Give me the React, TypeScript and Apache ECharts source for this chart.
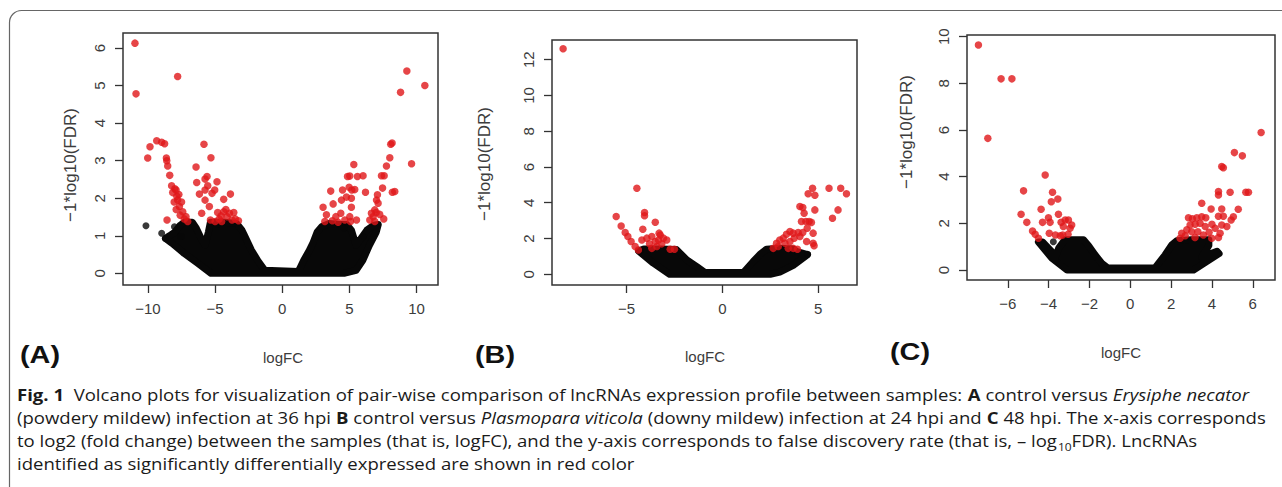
import React, { useEffect, useRef } from "react";
import * as echarts from "echarts";

// ---------- Panel A ----------
const xTicksA = [-10, -5, 0, 5, 10];
const yTicksA = [0, 1, 2, 3, 4, 5, 6];
const redA: number[][] = [
  [-10.97, 6.13], [-10.89, 4.78], [-7.79, 5.24], [-10.02, 3.07], [-9.85, 3.37], [-9.35, 3.53], [-8.98, 3.49],
  [-8.76, 3.45], [-8.63, 3.07], [-8.6, 3.0], [-8.53, 2.86], [-8.38, 2.61], [-8.24, 2.33], [-8.16, 2.15],
  [-8.0, 2.25], [-7.91, 2.22], [-7.85, 2.05], [-7.79, 1.95], [-8.05, 1.9], [-7.66, 1.78], [-7.9, 1.7],
  [-7.41, 1.64], [-7.6, 1.55], [-7.17, 1.51], [-7.3, 1.45], [-7.04, 1.38], [-8.58, 1.42], [-7.5, 1.9], [-7.7, 2.1],
  [-5.83, 3.44], [-5.31, 3.08], [-6.42, 2.83], [-5.6, 2.58], [-5.75, 2.51], [-6.37, 2.42], [-4.86, 2.44],
  [-6.17, 2.11], [-5.75, 2.22], [-5.55, 2.33], [-5.23, 2.13], [-5.03, 2.22], [-5.75, 1.95], [-4.36, 1.97],
  [-3.86, 2.11], [-6.0, 1.6], [-5.43, 1.78], [-4.81, 1.62], [-5.35, 1.42], [-5.0, 1.38], [-4.56, 1.53],
  [-4.36, 1.64], [-4.11, 1.51], [-3.93, 1.6], [-3.61, 1.62], [-3.74, 1.42], [-3.26, 1.4], [-4.51, 1.38],
  [-4.2, 1.7], [-4.7, 1.45], [-3.5, 1.45],
  [9.28, 5.39], [10.62, 5.0], [8.81, 4.82], [9.63, 2.92], [8.18, 3.47], [8.08, 3.44], [8.01, 3.08], [7.76, 2.86],
  [7.59, 2.6], [7.39, 2.6], [7.47, 2.27], [8.38, 2.18], [8.2, 2.16], [7.09, 2.09], [7.02, 1.95], [7.14, 1.87],
  [6.89, 1.69], [7.0, 1.62], [7.26, 1.57], [6.77, 1.51], [6.52, 1.42], [6.89, 1.38], [7.56, 1.45], [6.64, 1.6],
  [5.33, 2.9], [5.03, 2.59], [4.86, 2.58], [5.6, 2.58], [6.02, 2.6], [3.61, 2.19], [4.49, 2.22], [4.98, 2.29],
  [5.18, 2.22], [5.4, 2.23], [6.2, 2.16], [4.41, 1.95], [4.78, 2.03], [5.15, 2.0], [3.79, 1.85], [3.04, 1.76],
  [5.15, 1.76], [4.36, 1.6], [3.29, 1.56], [3.99, 1.51], [5.03, 1.51], [3.17, 1.38], [3.73, 1.4], [4.16, 1.36],
  [4.66, 1.42], [5.08, 1.38], [5.53, 1.42],
];
const blackA: number[][] = [
  [-10.15, 1.27], [-8.03, 1.24], [-8.98, 1.07], [-7.54, 0.98], [-8.7, 0.93], [-4.8, 1.3], [6.05, 0.98], [4.6, 1.2],
];
const massA: number[][] = [
  [-5.3, 0], [-6.3, 0.27], [-7.3, 0.53], [-8.2, 0.8], [-8.7, 0.93], [-8.4, 1.0], [-8.0, 1.1], [-7.6, 1.28],
  [-7.3, 1.36], [-6.7, 1.36], [-6.4, 1.2], [-6.0, 0.9], [-5.75, 0.75], [-5.5, 1.1], [-5.35, 1.36], [-4.3, 1.36],
  [-3.4, 1.33], [-3.0, 1.15], [-2.8, 1.0], [-2.3, 0.62], [-1.8, 0.33], [-1.3, 0.08], [1.2, 0.05], [1.6, 0.35],
  [2.0, 0.6], [2.3, 0.82], [2.6, 1.1], [2.95, 1.25], [3.5, 1.33], [4.3, 1.3], [4.8, 1.3], [5.15, 1.15],
  [5.5, 0.75], [5.9, 0.95], [6.3, 1.15], [6.8, 1.28], [7.15, 1.3], [7.0, 1.1], [6.5, 0.75], [6.0, 0.35],
  [5.5, 0.08], [4.6, 0],
];

// ---------- Panel B ----------
const xTicksB = [-5, 0, 5];
const yTicksB = [0, 2, 4, 6, 8, 10, 12];
const redB: number[][] = [
  [-8.31, 12.61], [-4.46, 4.81], [-5.54, 3.23], [-5.28, 2.7], [-5.07, 2.33], [-4.93, 2.11], [-4.76, 1.83],
  [-4.55, 1.55], [-4.38, 1.36], [-4.06, 3.45], [-4.06, 3.27], [-4.15, 2.52], [-3.5, 2.91], [-4.2, 1.92],
  [-3.94, 2.02], [-3.68, 2.11], [-3.5, 1.83], [-3.24, 2.2], [-3.07, 2.02], [-3.42, 1.55], [-3.16, 1.7],
  [-2.9, 1.92], [-3.68, 1.45], [-2.72, 1.4], [-2.5, 1.4], [-3.33, 1.92], [-3.8, 1.7], [-3.3, 2.3],
  [6.18, 4.81], [5.57, 4.81], [6.48, 4.5], [4.71, 4.81], [4.48, 4.5], [4.83, 4.42], [4.83, 3.6], [6.04, 3.6],
  [5.75, 3.13], [4.05, 3.79], [4.2, 3.73], [4.27, 3.41], [4.13, 2.95], [4.36, 2.95], [4.53, 2.95], [4.65, 2.9],
  [4.43, 2.57], [4.74, 2.3], [4.4, 1.83], [4.74, 1.73], [4.79, 1.6], [3.53, 2.39], [3.7, 2.3], [3.96, 2.33],
  [3.35, 2.24], [3.18, 2.02], [3.0, 1.92], [3.27, 1.73], [2.92, 1.55], [3.53, 1.83], [3.75, 2.02], [4.05, 2.11],
  [3.44, 1.45], [3.7, 1.45], [3.92, 1.4], [2.66, 1.45], [4.2, 2.33], [2.83, 1.73],
];
const blackB: number[][] = [[4.45, 1.12], [-4.3, 1.3]];
const massB: number[][] = [
  [-2.75, 0], [-3.6, 0.62], [-4.37, 1.3], [-4.1, 1.42], [-3.3, 1.42], [-2.4, 1.38], [-1.85, 0.8], [-1.33, 0.43],
  [-0.9, 0.1], [1.1, 0.1], [1.6, 0.7], [2.0, 1.15], [2.3, 1.4], [3.0, 1.45], [3.7, 1.42], [3.9, 1.27],
  [4.45, 1.1], [3.7, 0.5], [3.0, 0.12], [2.5, 0],
];

// ---------- Panel C ----------
const xTicksC = [-6, -4, -2, 0, 2, 4, 6];
const yTicksC = [0, 2, 4, 6, 8, 10];
const redC: number[][] = [
  [-7.44, 9.64], [-6.33, 8.19], [-5.8, 8.19], [-6.98, 5.64], [-4.17, 4.07], [-5.23, 3.39], [-3.81, 3.33],
  [-3.55, 3.04], [-3.87, 2.92], [-5.35, 2.39], [-5.07, 2.04], [-4.37, 2.6], [-4.3, 2.04], [-4.01, 2.24],
  [-3.93, 2.04], [-3.52, 2.39], [-3.39, 2.04], [-3.19, 2.14], [-3.03, 2.14], [-2.87, 1.93], [-2.95, 1.79],
  [-3.28, 1.86], [-4.79, 1.67], [-4.66, 1.53], [-3.97, 1.57], [-3.67, 1.5], [-3.31, 1.5], [-3.05, 1.53],
  [-4.5, 1.36], [-3.43, 1.47],
  [6.41, 5.89], [5.1, 5.03], [5.49, 4.89], [4.48, 4.43], [4.56, 4.38], [4.32, 3.36], [4.32, 3.21], [4.89, 3.33],
  [5.66, 3.33], [5.79, 3.33], [3.5, 2.86], [3.96, 2.61], [4.48, 2.61], [5.29, 2.6], [4.32, 2.3], [4.56, 2.3],
  [5.05, 2.28], [4.94, 2.14], [4.48, 1.93], [4.73, 1.86], [4.4, 1.57], [4.32, 1.39], [2.85, 2.24], [3.04, 2.19],
  [3.26, 2.24], [3.5, 2.28], [3.7, 2.24], [2.93, 1.93], [3.18, 1.96], [3.42, 2.0], [3.67, 1.86], [4.0, 1.96],
  [4.16, 1.79], [2.77, 1.72], [3.01, 1.64], [3.31, 1.64], [3.58, 1.5], [3.86, 1.62], [2.52, 1.57], [2.44, 1.36],
  [2.69, 1.47], [3.99, 1.36], [3.17, 1.39],
];
const blackC: number[][] = [[-3.77, 1.21]];
const massC: number[][] = [
  [-3.1, 0], [-3.84, 0.5], [-4.5, 1.2], [-4.3, 1.2], [-3.65, 0.6], [-3.5, 0.95], [-3.2, 1.3], [-2.3, 1.3],
  [-2.05, 1.05], [-1.72, 0.64], [-1.4, 0.29], [-1.1, 0.08], [1.2, 0.08], [1.7, 0.64], [2.03, 1.07], [2.28, 1.25],
  [3.0, 1.3], [3.85, 1.3], [3.85, 1.05], [3.5, 0.55], [4.25, 0.8], [4.35, 0.7], [3.1, 0],
];

const yLabel = "\u22121*log10(FDR)";
const xLabel = "logFC";
const panelTags = ["(A)", "(B)", "(C)"];

const captionLines: { t: string; s?: string }[][] = [
  [
    { t: "Fig. 1", s: "b" },
    { t: "  Volcano plots for visualization of pair-wise comparison of lncRNAs expression profile between samples: " },
    { t: "A", s: "b" },
    { t: " control versus " },
    { t: "Erysiphe necator", s: "i" },
  ],
  [
    { t: "(powdery mildew) infection at 36 hpi " },
    { t: "B", s: "b" },
    { t: " control versus " },
    { t: "Plasmopara viticola", s: "i" },
    { t: " (downy mildew) infection at 24 hpi and " },
    { t: "C", s: "b" },
    { t: " 48 hpi. The x-axis corresponds" },
  ],
  [
    { t: "to log2 (fold change) between the samples (that is, logFC), and the y-axis corresponds to false discovery rate (that is, \u2013 log" },
    { t: "10", s: "sub" },
    { t: "FDR). LncRNAs" },
  ],
  [{ t: "identified as significantly differentially expressed are shown in red color" }],
];

const CAP_FONT = "Open Sans";
const CAP_SIZE = 15.5;
const capStart = 17;
const capRefEnd = 1266; // right end of the longest (second) line
const capY = [395, 418, 441, 464];

function segFont(s?: string) {
  const size = s === "sub" ? 10 : CAP_SIZE;
  const w = s === "b" ? "bold" : "normal";
  const st = s === "i" ? "italic" : "normal";
  return `${st} ${w} ${size}px "${CAP_FONT}"`;
}

function measureLine(segs: { t: string; s?: string }[]) {
  const ctx = document.createElement("canvas").getContext("2d");
  if (!ctx) return 1;
  let sum = 0;
  for (const seg of segs) {
    ctx.font = segFont(seg.s);
    sum += ctx.measureText(seg.t).width;
  }
  return sum;
}

const fmt = (v: number) => (v < 0 ? "\u2212" + Math.abs(v) : String(v));

export default function App() {
  const ref = useRef<HTMLDivElement>(null);
  useEffect(() => {
    document.body.style.margin = "0";
    if (!ref.current) return;
    const chart = echarts.init(ref.current, undefined, { renderer: "svg" });

    const grids = [
      { left: 123, top: 33, width: 315, height: 252 },
      { left: 552, top: 40, width: 305, height: 245 },
      { left: 967, top: 35, width: 308, height: 245 },
    ];
    const xr = [[-11.86, 11.6], [-8.89, 7.03], [-8.0, 7.09]];
    const yr = [[-0.31, 6.4], [-0.6, 13.1], [-0.43, 10.07]];
    const xt = [xTicksA, xTicksB, xTicksC];
    const yt = [yTicksA, yTicksB, yTicksC];
    const reds = [redA, redB, redC];
    const blacks = [blackA, blackB, blackC];
    const masses = [massA, massB, massC];
    const axisColor = "#333";
    const labelColor = "#3c3c3c";
    const tickFont = "Liberation Sans";

    const series: any[] = [];
    for (let i = 0; i < 3; i++) {
      const mass = masses[i];
      series.push({
        type: "custom",
        xAxisIndex: i,
        yAxisIndex: i,
        data: mass,
        silent: true,
        z: 1,
        renderItem: (params: any, api: any) => {
          if (params.dataIndex !== 0) return null;
          const pts = mass.map((p) => api.coord(p));
          return {
            type: "polygon",
            shape: { points: pts },
            style: { fill: "#080808", stroke: "#080808", lineWidth: 7, lineJoin: "round" },
          };
        },
      });
      series.push({
        type: "scatter",
        xAxisIndex: i,
        yAxisIndex: i,
        data: blacks[i],
        symbolSize: 7,
        itemStyle: { color: "#080808" },
        z: 2,
      });
      series.push({
        type: "scatter",
        xAxisIndex: i,
        yAxisIndex: i,
        data: reds[i],
        symbolSize: 7.5,
        itemStyle: { color: "#e01619" },
        z: 3,
      });
    }

    const graphic: any[] = [
      {
        type: "rect",
        shape: { x: 9.5, y: 10.5, width: 1320, height: 600, r: 12 },
        style: { fill: "none", stroke: "#666", lineWidth: 1.2 },
        silent: true,
      },
    ];
    const yLabPos = [[70, 165], [484, 164], [906, 132]];
    const xLabPos = [[283, 357], [705, 356], [1121, 352]];
    const tagPos = [[40, 355], [495, 355], [910, 352]];
    for (let i = 0; i < 3; i++) {
      graphic.push({
        type: "text",
        x: yLabPos[i][0],
        y: yLabPos[i][1],
        rotation: Math.PI / 2,
        style: {
          text: yLabel,
          fontFamily: tickFont,
          fontSize: 17,
          fill: labelColor,
          align: "center",
          verticalAlign: "middle",
        },
      });
      graphic.push({
        type: "text",
        x: xLabPos[i][0],
        y: xLabPos[i][1],
        style: {
          text: xLabel,
          fontFamily: tickFont,
          fontSize: 15,
          fill: labelColor,
          align: "center",
          verticalAlign: "middle",
        },
      });
      graphic.push({
        type: "text",
        x: tagPos[i][0],
        y: tagPos[i][1],
        scaleX: 1.2,
        style: {
          text: panelTags[i],
          fontFamily: tickFont,
          fontWeight: "bold",
          fontSize: 24,
          fill: "#111",
          align: "center",
          verticalAlign: "middle",
        },
      });
    }

    const rich: any = {
      n: { fontFamily: CAP_FONT, fontSize: CAP_SIZE, fill: "#1a1a1a", lineHeight: 22 },
      b: { fontFamily: CAP_FONT, fontSize: CAP_SIZE, fontWeight: "bold", fill: "#1a1a1a", lineHeight: 22 },
      i: { fontFamily: CAP_FONT, fontSize: CAP_SIZE, fontStyle: "italic", fill: "#1a1a1a", lineHeight: 22 },
      sub: { fontFamily: CAP_FONT, fontSize: 10, fill: "#1a1a1a", lineHeight: 22, verticalAlign: "bottom" },
    };
    const scaleX = (capRefEnd - capStart) / measureLine(captionLines[1]);
    captionLines.forEach((segs, li) => {
      const text = segs.map((s) => `{${s.s || "n"}|${s.t}}`).join("");
      graphic.push({
        type: "text",
        x: capStart,
        y: capY[li],
        scaleX,
        style: { text, rich, align: "left", verticalAlign: "middle" },
      });
    });

    chart.setOption({
      animation: false,
      backgroundColor: "#fff",
      grid: grids.map((g) => ({
        ...g,
        show: true,
        borderColor: axisColor,
        borderWidth: 1.5,
        backgroundColor: "transparent",
      })),
      xAxis: [0, 1, 2].map((i) => ({
        type: "value",
        gridIndex: i,
        position: "bottom",
        min: xr[i][0],
        max: xr[i][1],
        axisLine: { show: false, onZero: false },
        splitLine: { show: false },
        axisTick: { show: true, inside: false, length: 8, customValues: xt[i], lineStyle: { color: axisColor, width: 1.3 } },
        axisLabel: {
          customValues: xt[i],
          margin: 16,
          fontSize: 15,
          fontFamily: tickFont,
          color: labelColor,
          formatter: fmt,
        },
      })),
      yAxis: [0, 1, 2].map((i) => ({
        type: "value",
        gridIndex: i,
        position: "left",
        min: yr[i][0],
        max: yr[i][1],
        axisLine: { show: false, onZero: false },
        splitLine: { show: false },
        axisTick: { show: true, inside: false, length: 8, customValues: yt[i], lineStyle: { color: axisColor, width: 1.3 } },
        axisLabel: {
          customValues: yt[i],
          margin: 16,
          rotate: 90,
          fontSize: 15,
          fontFamily: tickFont,
          color: labelColor,
          formatter: fmt,
        },
      })),
      series,
      graphic,
    });
    return () => chart.dispose();
  }, []);
  return <div ref={ref} style={{ width: 1282, height: 487 }} />;
}
